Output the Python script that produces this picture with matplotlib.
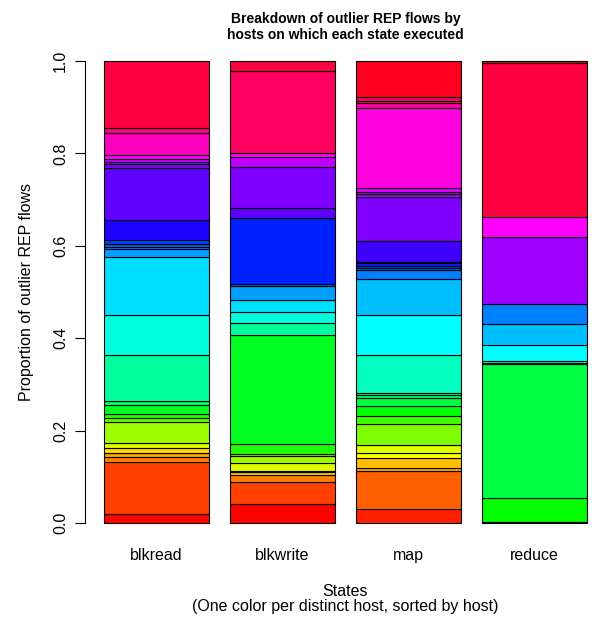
import numpy as np
import matplotlib
matplotlib.use("Agg")
import matplotlib.pyplot as plt
from matplotlib.colors import hsv_to_rgb

# distinct hosts across all states, one rainbow colour each
n_hosts = 48

states = ["blkread", "blkwrite", "map", "reduce"]

# host index (sorted) and share of outlier REP flows, bottom to top
blkread_hosts = [0, 2, 4, 5, 7, 9, 11, 13, 15, 17, 19, 21, 23, 25, 27, 28, 29, 30,
                 33, 35, 36, 37, 38, 40, 42, 44, 46]
blkread_props = [0.020, 0.111, 0.011, 0.010, 0.010, 0.012, 0.044, 0.009, 0.009, 0.019,
                 0.009, 0.099, 0.087, 0.125, 0.017, 0.006, 0.005, 0.009, 0.043, 0.113,
                 0.008, 0.006, 0.005, 0.010, 0.047, 0.010, 0.146]

blkwrite_hosts = [0, 2, 4, 6, 7, 9, 11, 13, 15, 17, 21, 23, 25, 27, 29, 31, 35, 36,
                  38, 40, 45, 46]
blkwrite_props = [0.042, 0.047, 0.015, 0.006, 0.003, 0.017, 0.016, 0.003, 0.023, 0.236,
                  0.024, 0.025, 0.025, 0.030, 0.005, 0.144, 0.021, 0.089, 0.022, 0.007,
                  0.178, 0.022]

map_hosts = [1, 3, 5, 6, 8, 9, 12, 14, 16, 18, 19, 20, 22, 24, 26, 28, 29, 30, 31, 32,
             34, 36, 37, 38, 39, 41, 43, 44, 45, 47]
map_props = [0.030, 0.083, 0.007, 0.021, 0.010, 0.018, 0.045, 0.018, 0.021, 0.017,
             0.007, 0.004, 0.082, 0.087, 0.078, 0.019, 0.005, 0.004, 0.006, 0.004,
             0.044, 0.095, 0.007, 0.005, 0.008, 0.173, 0.012, 0.004, 0.007, 0.079]

reduce_hosts = [0, 16, 18, 20, 22, 24, 26, 28, 37, 40, 46, 47]
reduce_props = [0.003, 0.051, 0.290, 0.003, 0.003, 0.035, 0.045, 0.043, 0.147, 0.042,
                0.333, 0.005]

all_hosts = [blkread_hosts, blkwrite_hosts, map_hosts, reduce_hosts]
all_props = [blkread_props, blkwrite_props, map_props, reduce_props]

# R-style rainbow palette
palette = [hsv_to_rgb((i / n_hosts, 1.0, 1.0)) for i in range(n_hosts)]

plt.rcParams['font.family'] = ['Liberation Sans', 'DejaVu Sans']
fs = 11.5

W, H = 594, 623
fig = plt.figure(figsize=(W / 100, H / 100), dpi=100)
left, right = 84.7, 606.0
bottom, top = 81.5, 580.5
ax = fig.add_axes([left / W, bottom / H, (right - left) / W, (top - bottom) / H])

xpos = 0.7 + 1.2 * np.arange(len(states))
for x, hosts, props in zip(xpos, all_hosts, all_props):
    props = np.array(props) / np.sum(props)
    base = np.concatenate([[0], np.cumsum(props)[:-1]])
    ax.bar([x] * len(props), props, width=1.0, bottom=base,
           color=[palette[h] for h in hosts], edgecolor='black', linewidth=0.8)

ax.set_xlim(0.016, 4.984)
ax.set_ylim(-0.04, 1.04)
for s in ['top', 'right', 'bottom']:
    ax.spines[s].set_visible(False)
ax.spines['left'].set_bounds(0, 1)
ax.spines['left'].set_linewidth(0.8)

ax.set_yticks(np.arange(0, 1.01, 0.2))
ax.set_yticklabels([f"{v:.1f}" for v in np.arange(0, 1.01, 0.2)],
                   rotation=90, va='center', fontsize=fs)
ax.tick_params(axis='y', length=7, width=0.8, pad=5)
ax.set_xticks(xpos)
ax.set_xticklabels(states, fontsize=fs)
ax.tick_params(axis='x', length=0, pad=5)

ax.set_ylabel("Proportion of outlier REP flows", fontsize=fs, labelpad=14)

cx = (left + right) / 2 / W
fig.text(cx, 1 - 591 / H, "States", ha='center', va='center', fontsize=fs)
fig.text(cx, 1 - 607 / H, "(One color per distinct host, sorted by host)",
         ha='center', va='center', fontsize=fs)
fig.text(cx, 1 - 27 / H, "Breakdown of outlier REP flows by\nhosts on which each state executed",
         ha='center', va='center', fontsize=10, fontweight='bold', linespacing=1.15)

fig.savefig("out.png", dpi=100)
